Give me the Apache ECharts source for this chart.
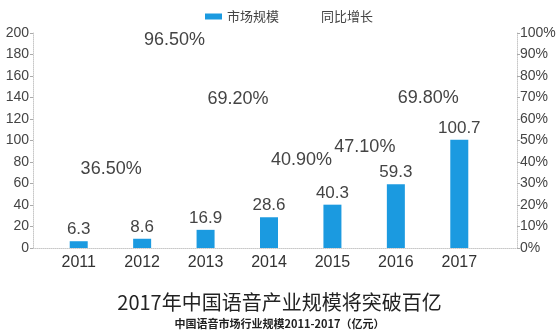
<!DOCTYPE html>
<html><head><meta charset="utf-8">
<script src="https://cdn.jsdelivr.net/npm/echarts@6/dist/echarts.min.js"></script>
<style>html,body{margin:0;padding:0;background:#fff}#c{width:559px;height:336px}</style>
</head><body><div id="c"></div>
<script>
const years = ['2011','2012','2013','2014','2015','2016','2017'];
const marketSize = [6.3, 8.6, 16.9, 28.6, 40.3, 59.3, 100.7];
const growth = [null, 36.5, 96.5, 69.2, 40.9, 47.1, 69.8];
const leftTicks = {min: 0, max: 200, interval: 20};
const rightTicks = {min: 0, max: 100, interval: 10};

const FONT = '"Liberation Sans", Arial, sans-serif';
const chart = echarts.init(document.getElementById('c'));
const axisGray = '#c8c8c8';
chart.setOption({
  backgroundColor: '#fff',
  animation: false,
  textStyle: {fontFamily: FONT},
  title: {
    text: '2017年中国语音产业规模将突破百亿',
    subtext: '中国语音市场行业规模2011-2017（亿元）',
    left: 'center', top: 287, itemGap: 6,
    textStyle: {fontSize: 20, color: '#222', fontWeight: 'normal', fontFamily: '"Noto Sans CJK SC", sans-serif'},
    subtextStyle: {fontSize: 11, color: '#222', fontWeight: 'bold', fontFamily: '"Noto Sans CJK SC", sans-serif'}
  },
  legend: {
    top: 5, left: 200, itemWidth: 17, itemHeight: 6, itemGap: 19,
    textStyle: {fontSize: 13, color: '#444', fontFamily: '"Noto Sans CJK SC", sans-serif'},
    data: [{name: '市场规模', icon: 'rect'}, {name: '同比增长'}]
  },
  grid: [
    {left: 33, right: 42, top: 33, bottom: 88},
    {left: 47, right: 68, top: 33, bottom: 88}
  ],
  xAxis: [
    {gridIndex: 0, type: 'value', min: 0, max: 1, axisLabel: {show: false}, axisTick: {show: false}, splitLine: {show: false},
     axisLine: {show: true, lineStyle: {color: axisGray, type: 'dotted'}}},
    {gridIndex: 1, type: 'category', data: years, axisLine: {show: false}, axisTick: {show: false},
     axisLabel: {fontSize: 16, color: '#333', margin: 7}}
  ],
  yAxis: [
    {gridIndex: 0, type: 'value', position: 'left', min: leftTicks.min, max: leftTicks.max, interval: leftTicks.interval,
     axisLine: {show: true, lineStyle: {color: axisGray, type: 'dotted'}}, axisTick: {show: true, length: 3, lineStyle: {color: '#aaa'}},
     splitLine: {show: false}, axisLabel: {fontSize: 14, color: '#444', margin: 4}},
    {gridIndex: 0, type: 'value', position: 'right', min: rightTicks.min, max: rightTicks.max, interval: rightTicks.interval,
     axisLine: {show: true, lineStyle: {color: axisGray, type: 'dotted'}}, axisTick: {show: true, length: 3, lineStyle: {color: '#aaa'}},
     splitLine: {show: false}, axisLabel: {fontSize: 14, color: '#444', margin: 3, formatter: '{value}%'}},
    {gridIndex: 1, type: 'value', min: leftTicks.min, max: leftTicks.max, show: false},
    {gridIndex: 1, type: 'value', min: rightTicks.min, max: rightTicks.max, show: false}
  ],
  series: [
    {name: '市场规模', type: 'bar', xAxisIndex: 1, yAxisIndex: 2, data: marketSize, barWidth: 18,
     itemStyle: {color: '#1b9ae0'},
     label: {show: true, position: 'top', fontSize: 17, color: '#444', distance: 3}},
    {name: '同比增长', type: 'line', xAxisIndex: 1, yAxisIndex: 3, data: growth, symbol: 'circle', symbolSize: 2, showSymbol: true,
     itemStyle: {color: '#ffffff'}, lineStyle: {color: '#ffffff', width: 1, opacity: 0},
     label: {show: true, position: 'top', distance: 0, offset: [-31, 10], fontSize: 18, color: '#444',
       formatter: p => Number(p.value).toFixed(2) + '%'}}
  ]
});
</script></body></html>
